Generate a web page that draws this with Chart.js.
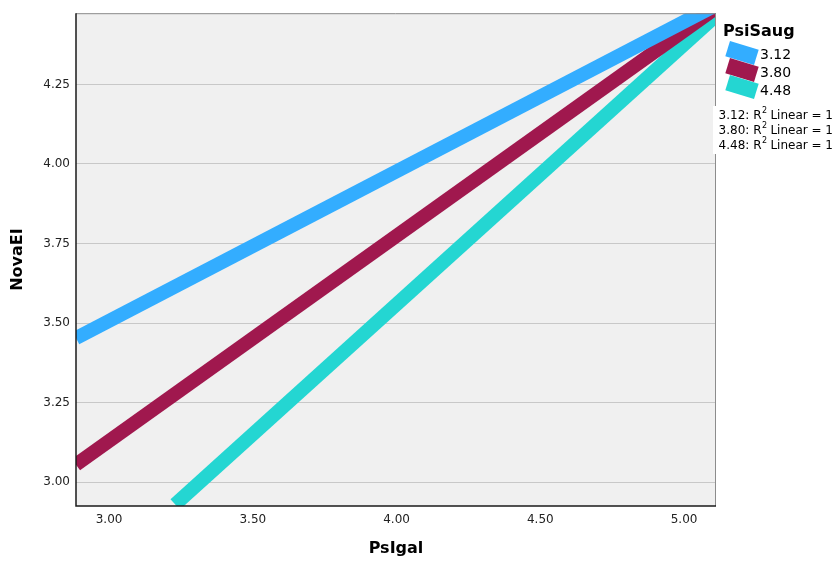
<!DOCTYPE html>
<html lang="en">
<head>
<meta charset="UTF-8">
<title>NovaEI by PsIgal</title>
<script src="https://cdn.jsdelivr.net/npm/chart.js"></script>
<style>
  body { margin: 0; background: #fff; }
  #chart { display: block; }
</style>
</head>
<body>
<canvas id="chart" width="835" height="561"></canvas>
<script>
// fit lines, one per PsiSaug level (ends)
const psiSaugLevels = ['3.12', '3.80', '4.48'];
const psIgal312 = [2.885, 5.17];
const novaEI312 = [3.453, 4.527];
const psIgal380 = [2.885, 5.17];
const novaEI380 = [3.055, 4.529];
const psIgal448 = [3.23, 5.17];
const novaEI448 = [2.93, 4.515];
const rSquared = ['1', '1', '1'];
const xTicks = [3.0, 3.5, 4.0, 4.5, 5.0];
const yTicks = [3.0, 3.25, 3.5, 3.75, 4.0, 4.25];

const colors = ['#33adff', '#a0184e', '#24d6d2'];
const FONT = '"DejaVu Sans", sans-serif';

function pts(xs, ys) {
  return xs.map((x, i) => ({ x: x, y: ys[i] }));
}

const plotFrame = {
  id: 'plotFrame',
  beforeDraw(chart) {
    const { ctx, chartArea: a } = chart;
    ctx.save();
    ctx.fillStyle = '#f0f0f0';
    ctx.fillRect(a.left, a.top, a.right - a.left, a.bottom - a.top);
    ctx.restore();
  },
  afterDatasetsDraw(chart) {
    const { ctx, chartArea: a } = chart;
    ctx.save();
    ctx.lineWidth = 1;
    ctx.strokeStyle = '#8c8c8c';
    ctx.beginPath();
    ctx.moveTo(a.left, a.top + 0.5);
    ctx.lineTo(a.right - 0.5, a.top + 0.5);
    ctx.lineTo(a.right - 0.5, a.bottom);
    ctx.stroke();
    ctx.lineWidth = 1.5;
    ctx.strokeStyle = '#1a1a1a';
    ctx.beginPath();
    ctx.moveTo(a.left, a.top);
    ctx.lineTo(a.left, a.bottom);
    ctx.lineTo(a.right, a.bottom);
    ctx.stroke();
    ctx.restore();
  }
};

const spssLegend = {
  id: 'spssLegend',
  afterDraw(chart) {
    const ctx = chart.ctx;
    ctx.save();
    ctx.fillStyle = '#000';
    ctx.textBaseline = 'alphabetic';
    ctx.font = 'bold 16px ' + FONT;
    ctx.fillText('PsiSaug', 723, 36);

    psiSaugLevels.forEach((lvl, i) => {
      const cy = 53 + i * 17;
      ctx.save();
      ctx.translate(742, cy);
      ctx.rotate(17 * Math.PI / 180);
      ctx.fillStyle = colors[i];
      ctx.fillRect(-15, -8, 30, 16);
      ctx.restore();
    });
    psiSaugLevels.forEach((lvl, i) => {
      ctx.fillStyle = '#000';
      ctx.font = '14px ' + FONT;
      ctx.textBaseline = 'middle';
      ctx.fillText(lvl, 760, 55 + i * 18);
    });

    // R2 notes sit over the frame
    ctx.fillStyle = '#fff';
    ctx.fillRect(713, 106, 122, 48);
    ctx.fillStyle = '#000';
    psiSaugLevels.forEach((lvl, i) => {
      const y = 116 + i * 15;
      const a = lvl + ': R';
      const b = ' Linear = ' + rSquared[i];
      ctx.font = '12px ' + FONT;
      const wa = ctx.measureText(a).width;
      ctx.font = '8px ' + FONT;
      const ws = ctx.measureText('2').width;
      ctx.font = '12px ' + FONT;
      const wb = ctx.measureText(b).width;
      let x = 833 - (wa + ws + wb);
      ctx.textBaseline = 'middle';
      ctx.fillText(a, x, y);
      ctx.font = '8px ' + FONT;
      ctx.fillText('2', x + wa + 0.5, y - 5);
      ctx.font = '12px ' + FONT;
      ctx.fillText(b, x + wa + ws, y);
    });
    ctx.restore();
  }
};

new Chart(document.getElementById('chart'), {
  type: 'scatter',
  data: {
    datasets: [
      { label: psiSaugLevels[0], data: pts(psIgal312, novaEI312) },
      { label: psiSaugLevels[1], data: pts(psIgal380, novaEI380) },
      { label: psiSaugLevels[2], data: pts(psIgal448, novaEI448) }
    ].map((d, i) => Object.assign(d, {
      showLine: true,
      borderColor: colors[i],
      backgroundColor: colors[i],
      borderWidth: 14,
      borderCapStyle: 'butt',
      pointRadius: 0,
      clip: 0
    }))
  },
  options: {
    responsive: false,
    animation: false,
    layout: { padding: { top: 12, right: 119, left: 0, bottom: 0 } },
    plugins: { legend: { display: false }, tooltip: { enabled: false } },
    scales: {
      x: {
        type: 'linear',
        min: 2.885,
        max: 5.111,
        afterBuildTicks: s => { s.ticks = xTicks.map(v => ({ value: v })); },
        afterFit: s => { s.height = 55; },
        grid: { display: false, drawTicks: false },
        border: { display: false },
        ticks: {
          padding: 7,
          color: '#222',
          font: { family: FONT, size: 12 },
          callback: v => Number(v).toFixed(2)
        },
        title: {
          display: true,
          text: 'PsIgal',
          color: '#000',
          font: { family: FONT, size: 16, weight: 'bold' },
          padding: { top: 0, bottom: 3 }
        }
      },
      y: {
        type: 'linear',
        min: 2.925,
        max: 4.474,
        afterBuildTicks: s => { s.ticks = yTicks.map(v => ({ value: v })); },
        afterFit: s => { s.width = 76; },
        grid: { color: '#c8c8c8', lineWidth: 1, drawTicks: false },
        border: { display: false },
        ticks: {
          padding: 6,
          color: '#222',
          font: { family: FONT, size: 12 },
          callback: v => Number(v).toFixed(2)
        },
        title: {
          display: true,
          text: 'NovaEI',
          color: '#000',
          font: { family: FONT, size: 16, weight: 'bold' },
          padding: { top: 8, bottom: 0 }
        }
      }
    }
  },
  plugins: [plotFrame, spssLegend]
});
</script>
</body>
</html>
